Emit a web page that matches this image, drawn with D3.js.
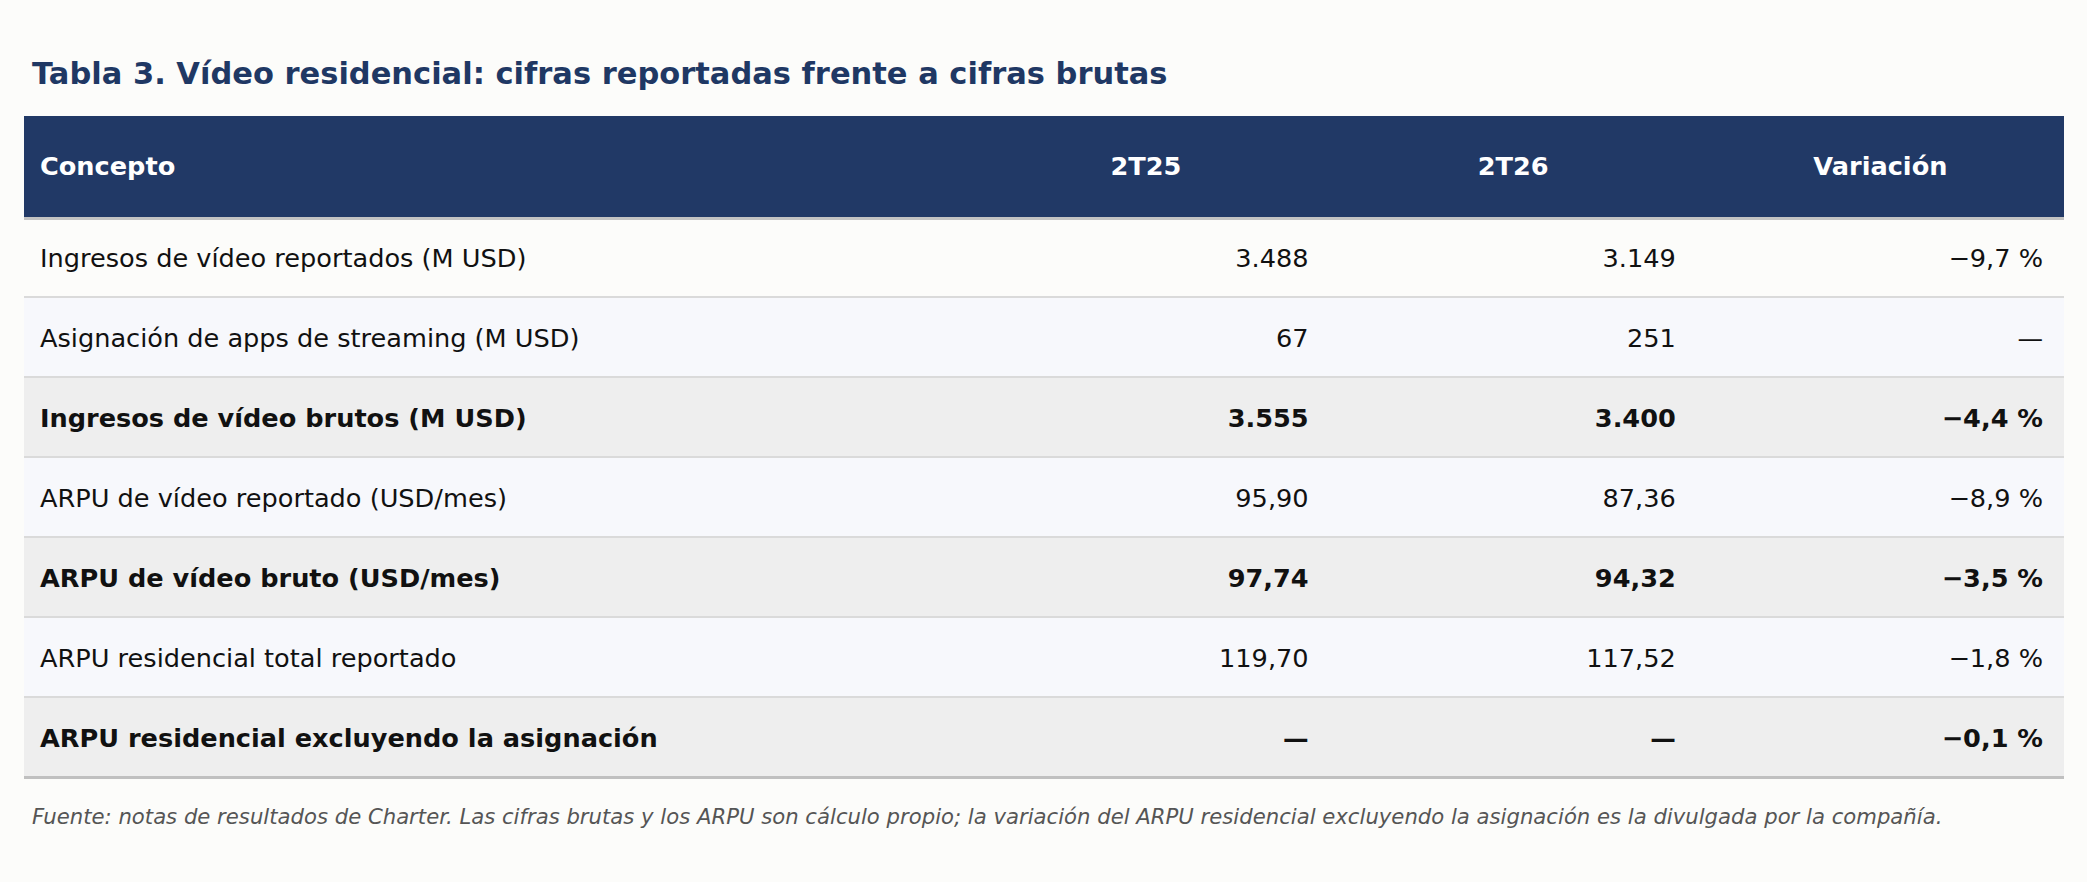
<!DOCTYPE html>
<html><head><meta charset="utf-8">
<script src="https://cdn.jsdelivr.net/npm/d3@7/dist/d3.min.js"></script>
<style>
html,body{margin:0;padding:0;background:#fcfcfa;}
svg{display:block;font-family:"DejaVu Sans",sans-serif;}
</style></head>
<body>
<svg id="chart" width="2087" height="882"></svg>
<script>
const title = "Tabla 3. Vídeo residencial: cifras reportadas frente a cifras brutas";
const footnote = "Fuente: notas de resultados de Charter. Las cifras brutas y los ARPU son cálculo propio; la variación del ARPU residencial excluyendo la asignación es la divulgada por la compañía.";
const columns = ["Concepto", "2T25", "2T26", "Variación"];
const concepts = [
  "Ingresos de vídeo reportados (M USD)",
  "Asignación de apps de streaming (M USD)",
  "Ingresos de vídeo brutos (M USD)",
  "ARPU de vídeo reportado (USD/mes)",
  "ARPU de vídeo bruto (USD/mes)",
  "ARPU residencial total reportado",
  "ARPU residencial excluyendo la asignación"
];
const q2_25 = ["3.488", "67", "3.555", "95,90", "97,74", "119,70", "—"];
const q2_26 = ["3.149", "251", "3.400", "87,36", "94,32", "117,52", "—"];
const variation = ["−9,7 %", "—", "−4,4 %", "−8,9 %", "−3,5 %", "−1,8 %", "−0,1 %"];
const boldRows = [false, false, true, false, true, false, true];
const colShares = [0.46, 0.18, 0.18, 0.18];

const svg = d3.select("#chart");
const left = 24, right = 2064;
const headerTop = 116, headerH = 101, rowH = 80;
const bodyTop = headerTop + headerH;
const fs = 25.6;

const rows = concepts.map((c, i) => ({
  concept: c, a: q2_25[i], b: q2_26[i], v: variation[i], bold: boldRows[i], i
}));

const cum = [0]; colShares.forEach(s => cum.push(cum[cum.length - 1] + s));
const x = d3.scaleLinear().domain([0, 1]).range([left, right]);
const colL = cum.slice(0, 4).map(v => x(v));
const colR = cum.slice(1).map(v => x(v));

const y = d3.scaleBand().domain(rows.map(d => d.i)).range([bodyTop, bodyTop + rowH * rows.length]);

svg.append("text").attr("x", 32).attr("y", 84).attr("font-size", 30.5).attr("font-weight", "bold")
  .attr("fill", "#1f3864").text(title);

svg.append("rect").attr("x", left).attr("y", headerTop).attr("width", right - left).attr("height", headerH).attr("fill", "#213966");
svg.selectAll("text.hdr").data(columns).join("text").attr("class", "hdr")
  .attr("x", (d, i) => i === 0 ? colL[0] + 16 : (colL[i] + colR[i]) / 2)
  .attr("y", headerTop + headerH / 2).attr("dy", "0.34em")
  .attr("text-anchor", (d, i) => i === 0 ? "start" : "middle")
  .attr("font-size", fs).attr("font-weight", "bold").attr("fill", "#ffffff").text(d => d);

const g = svg.selectAll("g.row").data(rows).join("g").attr("class", "row")
  .attr("transform", d => `translate(0,${y(d.i)})`);
g.append("rect").attr("x", left).attr("width", right - left).attr("height", rowH)
  .attr("fill", d => d.bold ? "#eeeeee" : (d.i % 2 === 1 ? "#f7f8fc" : "#fcfcfa"));
g.filter(d => d.i > 0).append("rect").attr("x", left).attr("y", -1).attr("width", right - left).attr("height", 2).attr("fill", "#dadada");

g.append("text").attr("x", colL[0] + 16).attr("y", rowH / 2).attr("dy", "0.38em")
  .attr("font-size", fs).attr("font-weight", d => d.bold ? "bold" : "normal").attr("fill", "#111")
  .text(d => d.concept);
["a", "b", "v"].forEach((k, j) => {
  g.append("text").attr("x", colR[j + 1] - 21).attr("y", rowH / 2).attr("dy", "0.38em")
    .attr("text-anchor", "end")
    .attr("font-size", fs).attr("font-weight", d => d.bold ? "bold" : "normal").attr("fill", "#111")
    .text(d => d[k]);
});

svg.append("rect").attr("x", left).attr("y", bodyTop).attr("width", right - left).attr("height", 3).attr("fill", "#c3c3c3");
const bottom = bodyTop + rowH * rows.length;
svg.append("rect").attr("x", left).attr("y", bottom - 1).attr("width", right - left).attr("height", 3).attr("fill", "#c0c0c0");

svg.append("text").attr("x", 32).attr("y", 824).attr("font-size", 21.2).attr("font-style", "italic")
  .attr("fill", "#555555").text(footnote);
</script>
</body></html>
